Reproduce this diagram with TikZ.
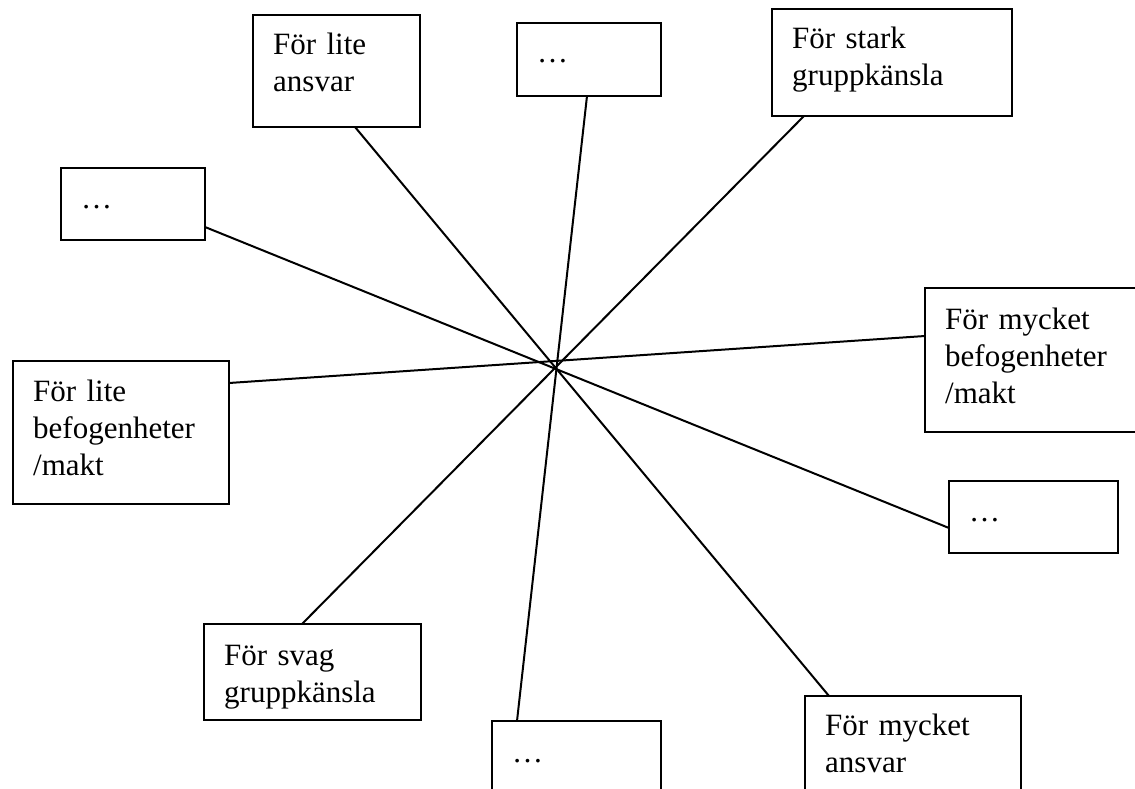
\documentclass[tikz,border=0pt]{standalone}
\usepackage{fontspec}
\setmainfont{Liberation Serif}
\usetikzlibrary{calc}
\begin{document}
\begin{tikzpicture}[x=1pt,y=-1pt,
  box/.style={draw, line width=2pt, rectangle, inner sep=0pt, outer sep=0pt, anchor=north west},
  lbl/.style={inner sep=0pt, anchor=base west, text width=180pt, align=left, font=\fontsize{31}{37}\selectfont},
  conn/.style={line width=2pt}]
\useasboundingbox (0,0) rectangle (1135,789);
% boxes
\node[box, minimum width=167pt, minimum height=112pt] (b1) at (253,15) {};
\node[box, minimum width=144pt, minimum height=73pt] (b2) at (517,23) {};
\node[box, minimum width=240pt, minimum height=107pt] (b3) at (772,9) {};
\node[box, minimum width=144pt, minimum height=72pt] (b4) at (61,168) {};
\node[box, minimum width=216pt, minimum height=143pt] (b5) at (13,361) {};
\node[box, minimum width=220pt, minimum height=144pt] (b6) at (925,288) {};
\node[box, minimum width=169pt, minimum height=72pt] (b7) at (949,481) {};
\node[box, minimum width=217pt, minimum height=96pt] (b8) at (204,624) {};
\node[box, minimum width=169pt, minimum height=100pt] (b9) at (492,721) {};
\node[box, minimum width=216pt, minimum height=120pt] (b10) at (805,696) {};
% labels
\node[lbl] (t1) at ($(b1.north west)+(20,40)$) {För lite\\ansvar};
\node[lbl] (t2) at ($(b2.north west)+(20,40)$) {…};
\node[lbl] (t3) at ($(b3.north west)+(20,40)$) {För stark\\gruppkänsla};
\node[lbl] (t4) at ($(b4.north west)+(20,40)$) {…};
\node[lbl] (t5) at ($(b5.north west)+(20,40)$) {För lite\\befogenheter\\/makt};
\node[lbl] (t6) at ($(b6.north west)+(20,41)$) {För mycket\\befogenheter\\/makt};
\node[lbl] (t7) at ($(b7.north west)+(20,40)$) {…};
\node[lbl] (t8) at ($(b8.north west)+(20,41)$) {För svag\\gruppkänsla};
\node[lbl] (t9) at ($(b9.north west)+(20,41)$) {…};
\node[lbl] (t10) at ($(b10.north west)+(20,39)$) {För mycket\\ansvar};
% connector ends
\coordinate (p1) at ($(b1.south west)+(102,0)$);
\coordinate (p2) at ($(b2.south west)+(70,0)$);
\coordinate (p3) at ($(b3.south west)+(32,0)$);
\coordinate (p4) at ($(b4.north east)+(0,59)$);
\coordinate (p5) at ($(b5.north east)+(0,22)$);
\coordinate (p6) at ($(b6.north west)+(0,48)$);
\coordinate (p7) at ($(b7.north west)+(0,47)$);
\coordinate (p8) at ($(b8.north west)+(98,0)$);
\coordinate (p9) at ($(b9.north west)+(25,0)$);
\coordinate (p10) at ($(b10.north west)+(24,0)$);
% connectors
\draw[conn] (p1) -- (p10);
\draw[conn] (p2) -- (p9);
\draw[conn] (p3) -- (p8);
\draw[conn] (p4) -- (p7);
\draw[conn] (p5) -- (p6);
\end{tikzpicture}
\end{document}
